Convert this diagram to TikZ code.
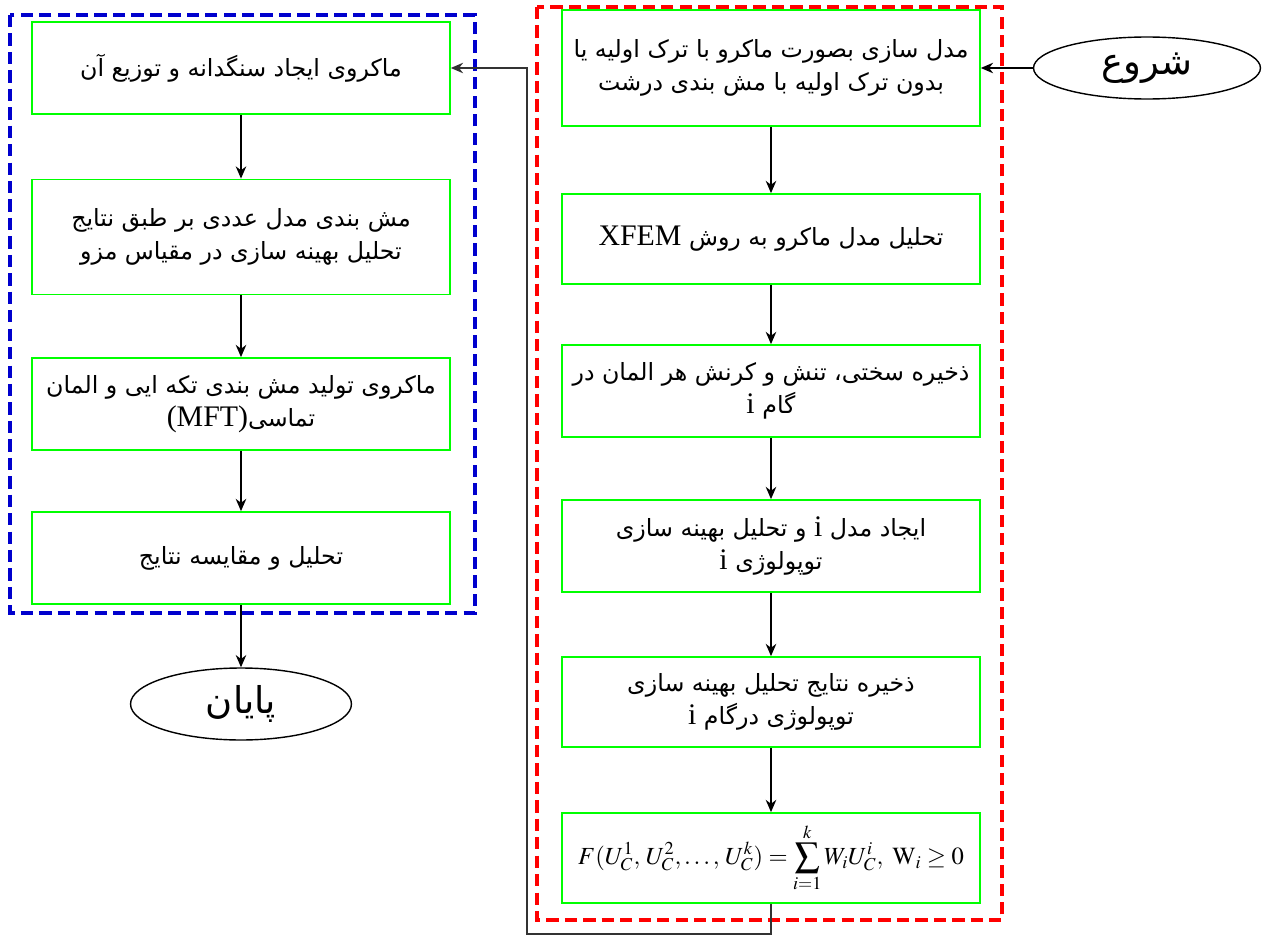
\documentclass[tikz,border=0pt]{standalone}
\usepackage{mathptmx}
\usepackage{fontspec}
\setmainfont{Liberation Serif}
\newfontfamily\arabicfont[Script=Arabic]{DejaVu Sans}
\TeXXeTstate=1
\usetikzlibrary{shapes.geometric,arrows.meta}

\definecolor{regionblue}{RGB}{0,0,205}
\newcommand{\fa}[1]{{\arabicfont\beginR #1\endR}}
\newcommand{\lat}[1]{\beginL{\rmfamily\fontsize{17}{19}\selectfont #1}\endL}

\tikzset{
  stepbox/.style={draw=green, line width=1pt, minimum width=8.36cm,
    minimum height=1.8cm, align=center, inner sep=2pt,
    font=\fontsize{13.5}{19}\selectfont},
  terminal/.style={draw, ellipse, line width=0.8pt,
    font=\fontsize{21}{24}\selectfont},
  flow/.style={-{Stealth[length=7pt,width=6pt]}, line width=0.7pt},
  region/.style={line width=2pt, dash pattern=on 7pt off 3.5pt}
}

\begin{document}
\begin{tikzpicture}[x=0.02cm, y=-0.02cm]
  \useasboundingbox (0,0) rectangle (1262,936);

  % dashed regions
  \draw[region, red] (537,7) rectangle (1002,920);
  \draw[region, regionblue] (10,15) rectangle (475,613);

  % right column
  \node[terminal, minimum width=4.54cm, minimum height=1.24cm] (start) at (1147,68) {\fa{شروع}};
  \node[stepbox, minimum height=2.32cm] (b1) at (771,68)
    {\fa{مدل سازی بصورت ماکرو با ترک اولیه یا}\\\fa{بدون ترک اولیه با مش بندی درشت}};
  \node[stepbox] (b2) at (771,239)
    {\fa{تحلیل مدل ماکرو به روش \lat{XFEM}}};
  \node[stepbox, minimum height=1.84cm] (b3) at (771,391)
    {\fa{ذخیره سختی، تنش و کرنش هر المان در}\\\fa{گام \lat{i}}};
  \node[stepbox, minimum height=1.84cm] (b4) at (771,546)
    {\fa{ایجاد مدل \lat{i} و تحلیل بهینه سازی}\\\fa{توپولوژی \lat{i}}};
  \node[stepbox] (b5) at (771,702)
    {\fa{ذخیره نتایج تحلیل بهینه سازی}\\\fa{توپولوژی درگام \lat{i}}};
  \node[stepbox, font=\fontsize{14}{17}\selectfont] (b6) at (771,858)
    {$\displaystyle F(U_C^1,\,U_C^2,\ldots,\,U_C^k)=\sum_{i=1}^{k}W_iU_C^i,\ \mathrm{W}_i\geq 0$};

  % left column
  \node[stepbox, minimum height=1.84cm] (l1) at (241,68)
    {\fa{ماکروی ایجاد سنگدانه و توزیع آن}};
  \node[stepbox, minimum height=2.3cm] (l2) at (241,237)
    {\fa{مش بندی مدل عددی بر طبق نتایج}\\\fa{تحلیل بهینه سازی در مقیاس مزو}};
  \node[stepbox, minimum height=1.84cm] (l3) at (241,404)
    {\fa{ماکروی تولید مش بندی تکه ایی و المان}\\\fa{تماسی\lat{(MFT)}}};
  \node[stepbox, minimum height=1.84cm] (l4) at (241,558)
    {\fa{تحلیل و مقایسه نتایج}};
  \node[terminal, minimum width=4.42cm, minimum height=1.44cm] (stop) at (241,704) {\fa{پایان}};

  % connectors
  \draw[flow] (start) -- (b1);
  \draw[flow] (b1) -- (b2);
  \draw[flow] (b2) -- (b3);
  \draw[flow] (b3) -- (b4);
  \draw[flow] (b4) -- (b5);
  \draw[flow] (b5) -- (b6);
  \coordinate (loop) at (527,934);
  \draw[flow, black!80] (b6.south) |- (loop) |- (l1.east);
  \draw[flow] (l1) -- (l2);
  \draw[flow] (l2) -- (l3);
  \draw[flow] (l3) -- (l4);
  \draw[flow] (l4) -- (stop);
\end{tikzpicture}
\end{document}
